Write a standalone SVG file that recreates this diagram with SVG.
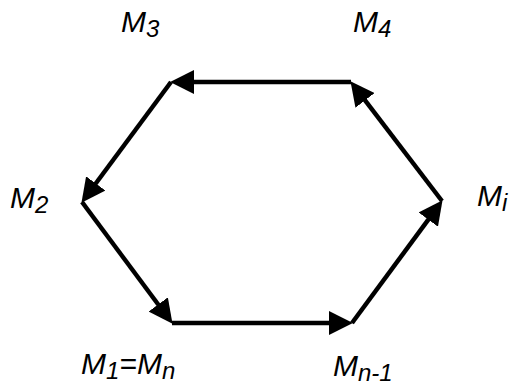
<svg xmlns="http://www.w3.org/2000/svg" width="511" height="385" viewBox="0 0 511 385">
<style>
.lbl{font-family:"Liberation Sans",Arial,sans-serif;font-style:italic;font-size:30px;fill:#000}
.sub{font-size:24px}
.edge{stroke:#000;stroke-width:4.5;fill:none;marker-end:url(#ah)}
</style>
<defs>
<marker id="ah" markerUnits="userSpaceOnUse" markerWidth="24" markerHeight="24" viewBox="0 0 22 22" refX="12" refY="11" orient="auto">
<path d="M0,0 L22,11 L0,22 z" fill="#000"/>
</marker>
</defs>
<rect width="511" height="385" fill="#fff"/>
<g id="connectors">
<path class="edge" d="M351,82 L181,82"/>
<path class="edge" d="M171,82 L87.96,193.97"/>
<path class="edge" d="M82,202 L166.03,314.98"/>
<path class="edge" d="M172,323 L342,323"/>
<path class="edge" d="M352,323 L436.06,209.05"/>
<path class="edge" d="M442,201 L357.07,89.94"/>
</g>
<g id="M3"><text class="lbl" x="121" y="32">M<tspan class="sub" dy="5">3</tspan></text></g>
<g id="M4"><text class="lbl" x="353" y="32">M<tspan class="sub" dy="5">4</tspan></text></g>
<g id="M2"><text class="lbl" x="10" y="208">M<tspan class="sub" dy="5">2</tspan></text></g>
<g id="Mi"><text class="lbl" x="477" y="206">M<tspan class="sub" dy="5">i</tspan></text></g>
<g id="M1"><text class="lbl" x="81" y="374">M<tspan class="sub" dy="5">1</tspan><tspan dy="-5">=M</tspan><tspan class="sub" dy="5">n</tspan></text></g>
<g id="Mn-1"><text class="lbl" x="333" y="376">M<tspan class="sub" dy="5">n-1</tspan></text></g>
</svg>
